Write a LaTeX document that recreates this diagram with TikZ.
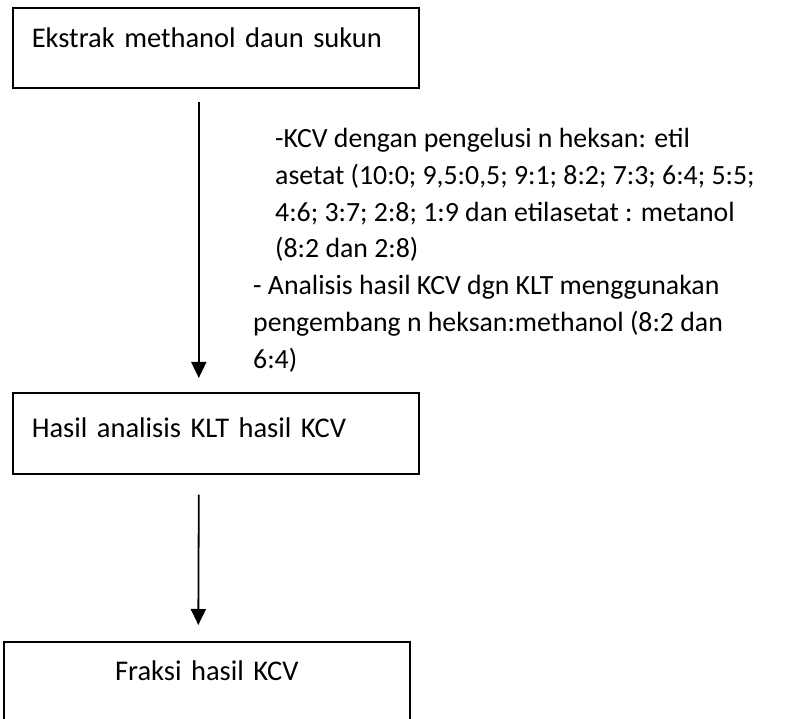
\documentclass[tikz,border=0pt]{standalone}
\usepackage{fontspec}
\setmainfont{Carlito}
\usetikzlibrary{arrows.meta}
\tikzset{box/.style={
    draw, line width=1.6pt, rectangle,
    inner xsep=19pt, inner ysep=0pt,
    text width=368pt, align=left, anchor=north west
  },
  flow/.style={line width=1.8pt, -{Triangle[length=16pt,width=15pt]}},
  note/.style={align=left, inner sep=0pt, anchor=base west,
    font=\fontsize{27.8}{36.7}\selectfont}
}

\begin{document}
\begin{tikzpicture}[x=1pt, y=-1pt, font=\fontsize{28.5}{36.7}\selectfont]
    \useasboundingbox (0,0) rectangle (790,719);
    \node[box, text height=40pt, text depth=40pt] (ekstrak) at (12,7) {Ekstrak methanol daun sukun};
    \node[box, text height=45pt, text depth=36pt] (analisis) at (12,392) {Hasil analisis KLT hasil KCV};
    \node[box, align=center, text height=39pt, text depth=42pt] (fraksi) at (3,641) {Fraksi hasil KCV};
    % base anchor sits on the last line
    \node[note] (elusi) at (275,258) {-KCV dengan pengelusi n heksan: etil\\
      asetat (10:0; 9,5:0,5; 9:1; 8:2; 7:3; 6:4; 5:5;\\
      4:6; 3:7; 2:8; 1:9 dan etilasetat : metanol\\
      (8:2 dan 2:8)};
    \node[note] (klt) at (253,368) {- Analisis hasil KCV dgn KLT menggunakan\\
      pengembang n heksan:methanol (8:2 dan\\
      6:4)};
    \draw[flow] ([xshift=-17pt,yshift=-13pt]ekstrak.south) -- ([xshift=-17pt,yshift=14pt]analisis.north);
    \draw[flow] ([xshift=-17pt,yshift=-20pt]analisis.south) -- ([xshift=-8.5pt,yshift=16pt]fraksi.north);
\end{tikzpicture}
\end{document}
